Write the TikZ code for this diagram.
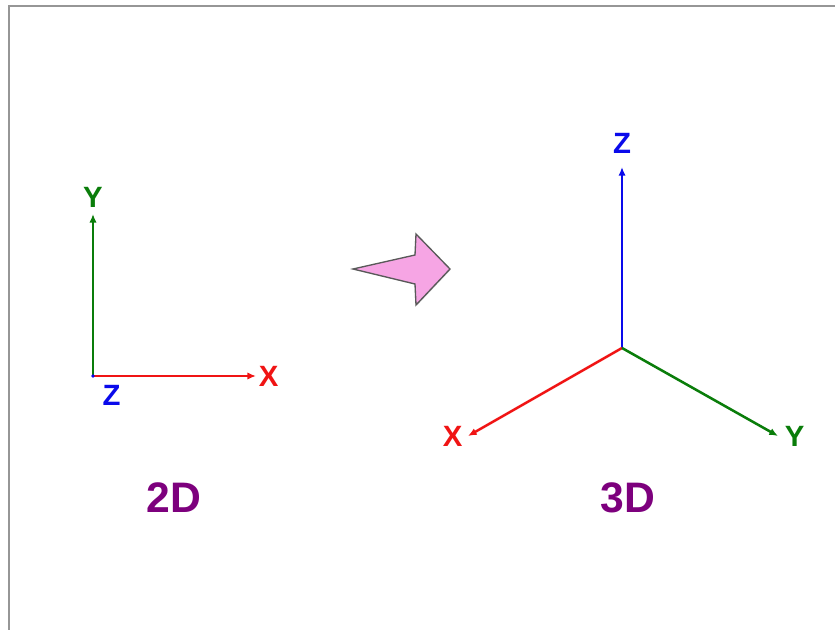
\documentclass[tikz,border=0pt]{standalone}
\usepackage{fontspec}
\setmainfont{Liberation Sans}
\usepackage{xcolor}
\usepackage{tikz}
\usetikzlibrary{arrows.meta,positioning,shadows}
\definecolor{axred}{RGB}{240,20,20}
\definecolor{axgreen}{RGB}{10,125,10}
\definecolor{axblue}{RGB}{10,10,235}
\definecolor{dimpurple}{RGB}{125,0,125}
\definecolor{arrowpink}{RGB}{246,165,228}
\definecolor{framegray}{RGB}{150,150,150}

\begin{document}
\begin{tikzpicture}[
  x=0.75pt,y=-0.75pt,
  axis/.style={-{Latex[length=6.5pt,width=5.5pt]},line width=1.9pt},
  lbl/.style={font=\fontsize{22}{22}\selectfont\bfseries,inner sep=0pt},
  dimlbl/.style={font=\fontsize{32}{32}\selectfont\bfseries,text=dimpurple,inner sep=0pt}
]
  \useasboundingbox (0,0) rectangle (835,630);
  \draw[framegray,line width=1.2pt] (9,630) |- (835,6);

  % 2D axes
  \coordinate (o2) at (93,376);
  \coordinate (x2tip) at (256,376);
  \coordinate (y2tip) at (93,214);
  \draw[axis,axgreen] (o2) -- (y2tip);
  \draw[axis,axred] (o2) -- (x2tip);
  \fill[axblue] (o2) circle (1.8);
  \node[lbl,text=axgreen,above=5pt of y2tip] (y2) {Y};
  \node[lbl,text=axred,right=2pt of x2tip] (x2) {X};
  \node[lbl,text=axblue,below right=7pt and 7pt of o2] (z2) {Z};
  \node[dimlbl] (dim2) at (174,498) {2D};

  % pink arrow
  \filldraw[fill=arrowpink,draw=black!65,line width=1pt,line join=miter,
    drop shadow={opacity=0.25,shadow xshift=0.6pt,shadow yshift=-0.6pt}]
    (353,269) -- (415,255) -- (416,234) -- (450,269) -- (416,305)
    -- (415,284) -- cycle;

  % 3D axes
  \coordinate (o3) at (622,348);
  \coordinate (z3tip) at (622,167);
  \coordinate (x3tip) at (468,436);
  \coordinate (y3tip) at (778,436);
  \draw[axis,axblue] (o3) -- (z3tip);
  \draw[axis,axred] (o3) -- (x3tip);
  \draw[axis,axgreen] (o3) -- (y3tip);
  \node[lbl,text=axblue,above=10pt of z3tip] (z3) {Z};
  \node[lbl,text=axred,left=4pt of x3tip] (x3) {X};
  \node[lbl,text=axgreen,right=5pt of y3tip] (y3) {Y};
  \node[dimlbl] (dim3) at (628,498) {3D};
\end{tikzpicture}
\end{document}
